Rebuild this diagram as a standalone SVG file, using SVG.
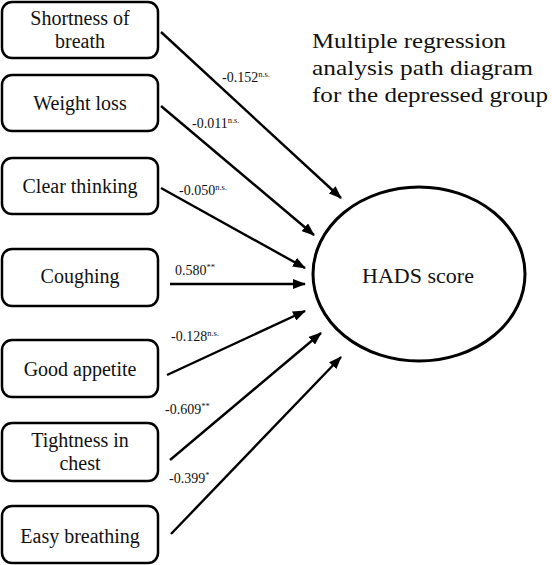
<svg xmlns="http://www.w3.org/2000/svg" width="552" height="565" viewBox="0 0 552 565">
<style>
.box{fill:#fff;stroke:#000;stroke-width:2.5}
.t{font-family:"Liberation Serif","Times New Roman",serif;font-size:20px;fill:#111;text-anchor:middle}
.lab{font-family:"Liberation Serif","Times New Roman",serif;font-size:14px;fill:#111}
.sup{font-size:8.5px}
.title{font-family:"Liberation Serif","Times New Roman",serif;font-size:22px;fill:#111}
.edge{stroke:#000;stroke-width:2.4;fill:none;marker-end:url(#ah)}
</style>
<defs>
<marker id="ah" markerUnits="userSpaceOnUse" markerWidth="14" markerHeight="10" refX="12" refY="5" orient="auto" viewBox="0 0 14 10">
<path d="M0,0 L13,5 L0,10 Z" fill="#000"/>
</marker>
</defs>
<rect width="552" height="565" fill="#fff"/>
<g id="title">
<text class="title" x="312" y="48" textLength="194" lengthAdjust="spacingAndGlyphs">Multiple regression</text>
<text class="title" x="312" y="75" textLength="221" lengthAdjust="spacingAndGlyphs">analysis path diagram</text>
<text class="title" x="312" y="102" textLength="236" lengthAdjust="spacingAndGlyphs">for the depressed group</text>
</g>
<g id="connectors">
<line class="edge" x1="161" y1="32" x2="341" y2="198"/>
<line class="edge" x1="161" y1="106" x2="314" y2="235"/>
<line class="edge" x1="161" y1="188" x2="305" y2="268"/>
<line class="edge" x1="170" y1="284" x2="305" y2="284"/>
<line class="edge" x1="167" y1="375" x2="305" y2="311"/>
<line class="edge" x1="170" y1="460" x2="321" y2="333"/>
<line class="edge" x1="171" y1="534" x2="341" y2="357"/>
<text class="lab" x="222" y="82">-0.152<tspan class="sup" dy="-5">n.s.</tspan></text>
<text class="lab" x="192" y="128">-0.011<tspan class="sup" dy="-5">n.s.</tspan></text>
<text class="lab" x="179" y="195">-0.050<tspan class="sup" dy="-5">n.s.</tspan></text>
<text class="lab" x="175" y="275">0.580<tspan class="sup" dy="-5">**</tspan></text>
<text class="lab" x="171" y="341">-0.128<tspan class="sup" dy="-5">n.s.</tspan></text>
<text class="lab" x="165" y="414">-0.609<tspan class="sup" dy="-5">**</tspan></text>
<text class="lab" x="169" y="483">-0.399<tspan class="sup" dy="-5">*</tspan></text>
</g>
<g id="n1"><rect class="box" x="2" y="2" width="156" height="56" rx="10"/><text class="t" x="80" y="25">Shortness of</text><text class="t" x="80" y="48">breath</text></g>
<g id="n2"><rect class="box" x="2" y="75" width="156" height="56" rx="10"/><text class="t" x="80" y="110">Weight loss</text></g>
<g id="n3"><rect class="box" x="2" y="158" width="156" height="56" rx="10"/><text class="t" x="80" y="193">Clear thinking</text></g>
<g id="n4"><rect class="box" x="2" y="249" width="156" height="57" rx="10"/><text class="t" x="80" y="283">Coughing</text></g>
<g id="n5"><rect class="box" x="2" y="340" width="156" height="57" rx="10"/><text class="t" x="80" y="376">Good appetite</text></g>
<g id="n6"><rect class="box" x="2" y="423" width="156" height="58" rx="10"/><text class="t" x="80" y="447">Tightness in</text><text class="t" x="80" y="470">chest</text></g>
<g id="n7"><rect class="box" x="2" y="506" width="156" height="57" rx="10"/><text class="t" x="80" y="543">Easy breathing</text></g>
<g id="hads"><ellipse cx="419" cy="274" rx="106" ry="87" fill="#fff" stroke="#000" stroke-width="3"/><text class="t" x="418" y="283" font-size="22" style="font-size:22px">HADS score</text></g>
</svg>
